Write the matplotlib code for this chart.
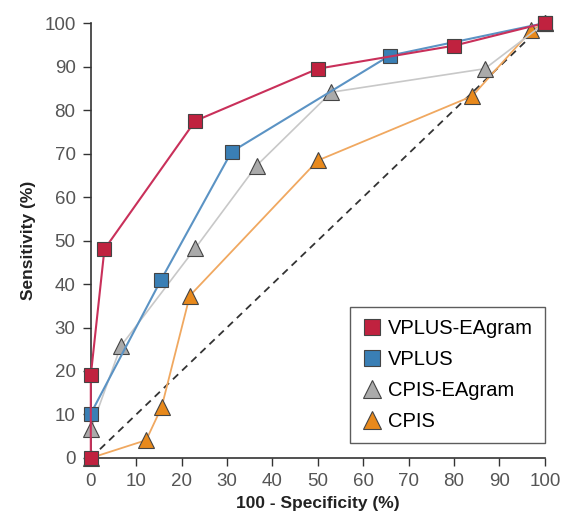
import matplotlib
matplotlib.use('Agg')
import matplotlib.pyplot as plt

plt.rcParams['font.family'] = ['Liberation Sans', 'DejaVu Sans']

# ROC points (100 - specificity, sensitivity)
vplus_ea_x = [0, 0, 3, 23, 50, 80, 100]
vplus_ea_y = [0, 19, 48, 77.5, 89.5, 94.8, 100]

vplus_x = [0, 15.5, 31, 65.8, 100]
vplus_y = [10.2, 41, 70.4, 92.5, 100]

cpis_ea_x = [0, 6.6, 23, 36.5, 53, 86.8, 100]
cpis_ea_y = [6.6, 25.7, 48.2, 67.2, 84.1, 89.5, 100]

cpis_x = [0, 12.2, 15.6, 21.8, 50, 84, 97, 100]
cpis_y = [0, 4.1, 11.7, 37.3, 68.4, 83.2, 98.3, 100]

ticks = list(range(0, 101, 10))

fig = plt.figure(figsize=(5.64, 5.24), dpi=100)
ax = fig.add_axes([0.161, 0.126, 0.805, 0.830])

ax.plot([0, 100], [0, 100], color='#333333', lw=1.3, ls=(0, (4, 3)), zorder=1)

edge = '#444444'
ax.plot(cpis_x, cpis_y, color='#f0a860', lw=1.3, marker='^', ms=11.5,
        mfc='#e8891c', mec=edge, mew=0.8, clip_on=False, zorder=3, label='CPIS')
ax.plot(cpis_ea_x, cpis_ea_y, color='#c8c8c8', lw=1.2, marker='^', ms=11.5,
        mfc='#aaaaaa', mec=edge, mew=0.8, clip_on=False, zorder=4, label='CPIS-EAgram')
ax.plot(vplus_x, vplus_y, color='#5b93c4', lw=1.5, marker='s', ms=10.5,
        mfc='#3a7fb5', mec=edge, mew=0.8, clip_on=False, zorder=5, label='VPLUS')
ax.plot(vplus_ea_x, vplus_ea_y, color='#c9305a', lw=1.5, marker='s', ms=10.5,
        mfc='#c0223f', mec=edge, mew=0.8, clip_on=False, zorder=6, label='VPLUS-EAgram')

ax.set_xlim(0, 100)
ax.set_ylim(0, 100)
ax.set_xticks(ticks)
ax.set_yticks(ticks)
ax.tick_params(direction='out', length=6, width=1, colors='#333333',
               labelsize=13.5, labelcolor='#555555', pad=5)
for s in ['top', 'right']:
    ax.spines[s].set_visible(False)
for s in ['left', 'bottom']:
    ax.spines[s].set_color('#333333')
    ax.spines[s].set_linewidth(1.2)

ax.set_xlabel('100 - Specificity (%)', fontsize=12.5, fontweight='bold', color='#222222', labelpad=4)
ax.set_ylabel('Sensitivity (%)', fontsize=12.5, fontweight='bold', color='#222222', labelpad=6)

handles, labels = ax.get_legend_handles_labels()
leg = ax.legend(handles[::-1], labels[::-1], loc='lower right', bbox_to_anchor=(1.0, 0.034),
                borderaxespad=0, fontsize=14.5, frameon=True, fancybox=False,
                edgecolor='#333333', markerscale=1.15,
                handlelength=0.9, handletextpad=0.35, labelspacing=0.6, borderpad=0.6)
leg.get_frame().set_linewidth(1.0)
for h in leg.legend_handles:
    h.set_linestyle('None')

fig.savefig('out.png', dpi=100)
